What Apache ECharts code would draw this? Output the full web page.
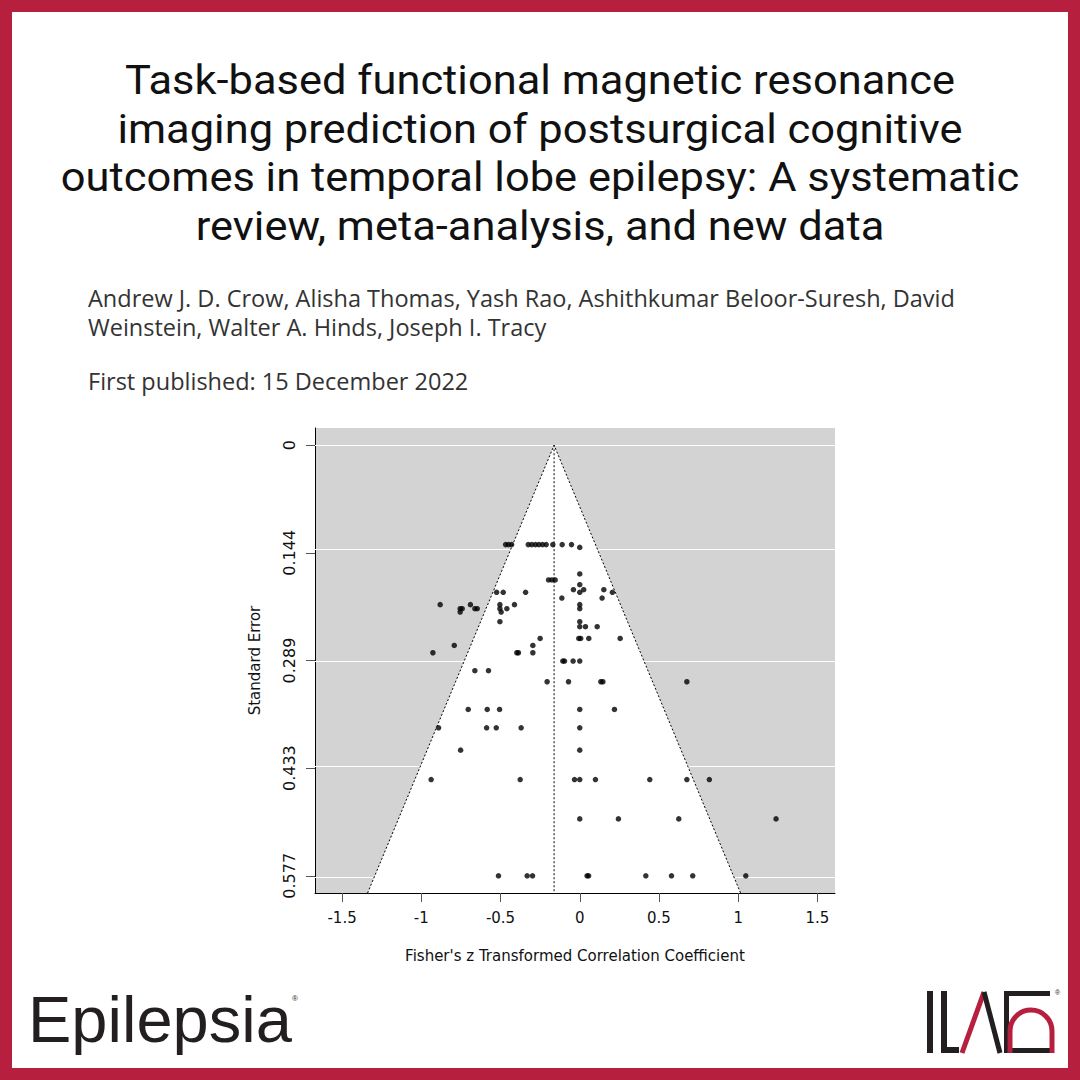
<!DOCTYPE html>
<html>
<head>
<meta charset="utf-8">
<style>
  html, body { margin: 0; padding: 0; background: #ffffff; }
  #chart { width: 1080px; height: 1080px; }
</style>
<script src="https://cdn.jsdelivr.net/npm/echarts@6/dist/echarts.min.js"></script>
</head>
<body>
<div id="chart"></div>
<script>
// ---------- data ----------
const titleLines = [
  'Task-based functional magnetic resonance',
  'imaging prediction of postsurgical cognitive',
  'outcomes in temporal lobe epilepsy: A systematic',
  'review, meta-analysis, and new data'
];
const authorLines = [
  'Andrew J. D. Crow, Alisha Thomas, Yash Rao, Ashithkumar Beloor-Suresh, David',
  'Weinstein, Walter A. Hinds, Joseph I. Tracy'
];
const publishedLine = 'First published: 15 December 2022';
const xAxisTitle = "Fisher's z Transformed Correlation Coefficient";
const yAxisTitle = 'Standard Error';

const xTicks = [-1.5, -1, -0.5, 0, 0.5, 1, 1.5];
const seTicks = [0, 0.1443, 0.2887, 0.4330, 0.5774];
const seTickLabels = ['0', '0.144', '0.289', '0.433', '0.577'];
const pooledEstimate = -0.162;

// observed effects (Fisher's z) and their standard errors, paired by index
const zEffects = [
  -0.468, -0.450, -0.430, -0.325, -0.303, -0.280, -0.258, -0.235, -0.212, -0.170, -0.111, -0.052,
  0.000,
  0.000,
  -0.197, -0.176, -0.155,
  0.000,
  -0.040, 0.025, 0.152,
  -0.525, -0.483, -0.342, 0.000, 0.206,
  -0.113, 0.141,
  -0.881, -0.690, -0.504, -0.412, 0.000,
  -0.755, -0.742, -0.662, -0.647, -0.504, -0.460, 0.000,
  -0.755, -0.496,
  -0.504, 0.000,
  0.000, 0.036, 0.110,
  -0.250, -0.006, 0.006, 0.057, 0.255,
  -0.792, -0.296,
  -0.927, -0.397, -0.387, -0.296,
  -0.107, -0.096, -0.042, 0.000,
  -0.662, -0.576,
  -0.206, -0.071, 0.133, 0.146, 0.676,
  -0.704, -0.584, -0.506, 0.000, 0.219,
  -0.891, -0.588, -0.527, -0.370, 0.000,
  -0.752, 0.000,
  -0.938, -0.376, -0.033, 0.000, 0.099, 0.442, 0.676, 0.818,
  0.000, 0.244, 0.625, 1.239,
  -0.513, -0.332, -0.298, 0.046, 0.056, 0.417, 0.579, 0.713, 1.048
];
const stdErrors = [
  0.1333, 0.1333, 0.1333, 0.1333, 0.1333, 0.1333, 0.1333, 0.1333, 0.1333, 0.1333, 0.1333, 0.1333,
  0.1370,
  0.1726,
  0.1807, 0.1807, 0.1807,
  0.1870,
  0.1937, 0.1937, 0.1937,
  0.1973, 0.1973, 0.1973, 0.1973, 0.1973,
  0.2049, 0.2049,
  0.2138, 0.2138, 0.2138, 0.2138, 0.2138,
  0.2192, 0.2192, 0.2192, 0.2192, 0.2192, 0.2192, 0.2192,
  0.2237, 0.2237,
  0.2367, 0.2367,
  0.2434, 0.2434, 0.2434,
  0.2591, 0.2591, 0.2591, 0.2591, 0.2591,
  0.2685, 0.2685,
  0.2783, 0.2783, 0.2783, 0.2783,
  0.2894, 0.2894, 0.2894, 0.2894,
  0.3024, 0.3024,
  0.3172, 0.3172, 0.3172, 0.3172, 0.3172,
  0.3543, 0.3543, 0.3543, 0.3543, 0.3543,
  0.3789, 0.3789, 0.3789, 0.3789, 0.3789,
  0.4089, 0.4089,
  0.4483, 0.4483, 0.4483, 0.4483, 0.4483, 0.4483, 0.4483, 0.4483,
  0.5011, 0.5011, 0.5011, 0.5011,
  0.5774, 0.5774, 0.5774, 0.5774, 0.5774, 0.5774, 0.5774, 0.5774, 0.5774
];

// axis extents (R style 4% padding)
const xMin = -1.671, xMax = 1.611;
const seMin = -0.0231, seMax = 0.6005;

// ---------- chart ----------
const chart = echarts.init(document.getElementById('chart'), null, { renderer: 'svg' });
const points = zEffects.map((z, i) => [z, stdErrors[i]]);
const axisFont = 'DejaVu Sans';
const red = '#b71f3f';
const ink = '#231f20';
const headFont = 'Roboto';
const bodyFont = 'Open Sans';

const graphics = [
  { type: 'rect', z: 100, shape: { x: 6, y: 6, width: 1068, height: 1068 },
    style: { fill: null, stroke: red, lineWidth: 12 } },
  { type: 'text', x: 540, y: 153, scaleX: 1.06,
    style: { text: titleLines.join('\n'), fontFamily: headFont, fontSize: 41, lineHeight: 48.7,
      fill: '#111', textAlign: 'center', textVerticalAlign: 'middle' } },
  { type: 'text', x: 88, y: 312.5,
    style: { text: authorLines.join('\n'), fontFamily: bodyFont, fontSize: 23.5, lineHeight: 29,
      fill: '#333', textAlign: 'left', textVerticalAlign: 'middle' } },
  { type: 'text', x: 88, y: 381,
    style: { text: publishedLine, fontFamily: bodyFont, fontSize: 23.5, fill: '#333', textAlign: 'left', textVerticalAlign: 'middle' } },
  // Epilepsia wordmark
  { type: 'text', x: 28, y: 1052,
    style: { text: 'Epilepsia', fontFamily: 'Liberation Sans', fontSize: 65, fill: ink, textAlign: 'left', textVerticalAlign: 'bottom' } },
  { type: 'text', x: 292, y: 998,
    style: { text: '®', fontFamily: 'Liberation Sans', fontSize: 8, fill: ink, textAlign: 'left', textVerticalAlign: 'middle' } },
  // ILAE mark (approximate)
  { type: 'rect', shape: { x: 927, y: 991, width: 6, height: 62 }, style: { fill: ink } },
  { type: 'rect', shape: { x: 941, y: 991, width: 6, height: 62 }, style: { fill: ink } },
  { type: 'rect', shape: { x: 941, y: 1047, width: 18, height: 6 }, style: { fill: ink } },
  { type: 'polyline', shape: { points: [[962, 1053], [984, 992]] }, style: { stroke: red, lineWidth: 5, fill: null } },
  { type: 'polyline', shape: { points: [[984, 992], [1000, 1053]] }, style: { stroke: ink, lineWidth: 5, fill: null } },
  { type: 'rect', shape: { x: 1004, y: 991, width: 5, height: 62 }, style: { fill: ink } },
  { type: 'rect', shape: { x: 1004, y: 991, width: 46, height: 5 }, style: { fill: ink } },
  { type: 'rect', shape: { x: 1004, y: 1048, width: 46, height: 5 }, style: { fill: ink } },
  { type: 'arc', shape: { cx: 1031, cy: 1031, r: 21, startAngle: Math.PI, endAngle: 2 * Math.PI, clockwise: true },
    style: { stroke: red, lineWidth: 5, fill: null } },
  { type: 'line', shape: { x1: 1010, y1: 1031, x2: 1010, y2: 1053 }, style: { stroke: red, lineWidth: 5 } },
  { type: 'line', shape: { x1: 1052, y1: 1031, x2: 1052, y2: 1053 }, style: { stroke: red, lineWidth: 5 } },
  { type: 'text', x: 1055, y: 992, style: { text: '®', fontFamily: 'Liberation Sans', fontSize: 7, fill: ink, textAlign: 'left', textVerticalAlign: 'middle' } }
];

const option = {
  backgroundColor: '#ffffff',
  animation: false,
  graphic: graphics,
  grid: {
    left: 315, top: 428, right: 245, bottom: 187,
    show: true, backgroundColor: '#d3d3d3', borderWidth: 0
  },
  xAxis: {
    type: 'value', min: xMin, max: xMax,
    name: xAxisTitle, nameLocation: 'middle', nameGap: 55,
    nameTextStyle: { fontFamily: axisFont, fontSize: 15, color: '#111' },
    axisLine: { show: true, onZero: false, lineStyle: { color: '#000', width: 1 } },
    axisTick: { show: true, customValues: xTicks, length: 9, lineStyle: { color: '#555' } },
    axisLabel: { show: true, customValues: xTicks, margin: 17, fontFamily: axisFont, fontSize: 15, color: '#111',
      formatter: v => String(v) },
    splitLine: { show: false }
  },
  yAxis: {
    type: 'value', inverse: true, min: seMin, max: seMax,
    name: yAxisTitle, nameLocation: 'middle', nameGap: 53, nameRotate: 90,
    nameTextStyle: { fontFamily: axisFont, fontSize: 15, color: '#111' },
    axisLine: { show: true, onZero: false, lineStyle: { color: '#000', width: 1 } },
    axisTick: { show: true, customValues: seTicks, length: 9, lineStyle: { color: '#555' } },
    axisLabel: { show: true, customValues: seTicks, rotate: 90, margin: 18, fontFamily: axisFont, fontSize: 16, color: '#111',
      formatter: v => { const i = seTicks.indexOf(v); return i >= 0 ? seTickLabels[i] : ''; } },
    splitLine: { show: false }
  },
  series: [
    {
      type: 'line', data: [], z: 1, silent: true,
      markLine: {
        silent: true, symbol: ['none', 'none'], label: { show: false },
        lineStyle: { color: '#ffffff', width: 1.2, type: 'solid' },
        data: seTicks.map(v => ({ yAxis: v }))
      }
    },
    {
      type: 'custom', z: 8, silent: true,
      data: [[pooledEstimate]],
      renderItem: (params, api) => {
        const est = api.value(0);
        const top = api.coord([est, 0]);
        const left = api.coord([est - 1.96 * seMax, seMax]);
        const right = api.coord([est + 1.96 * seMax, seMax]);
        return {
          type: 'group',
          children: [
            { type: 'polygon', shape: { points: [top, left, right] }, style: { fill: '#ffffff' } },
            { type: 'polyline', shape: { points: [left, top, right] },
              style: { stroke: '#000', lineWidth: 1, lineDash: [2, 2], fill: null } },
            { type: 'line', shape: { x1: top[0], y1: top[1], x2: top[0], y2: left[1] },
              style: { stroke: '#000', lineWidth: 1, lineDash: [2, 2] } }
          ]
        };
      }
    },
    {
      type: 'scatter', z: 10, data: points, symbol: 'circle', symbolSize: 5.5,
      itemStyle: { color: '#000' }
    }
  ]
};
chart.setOption(option);
</script>
</body>
</html>
